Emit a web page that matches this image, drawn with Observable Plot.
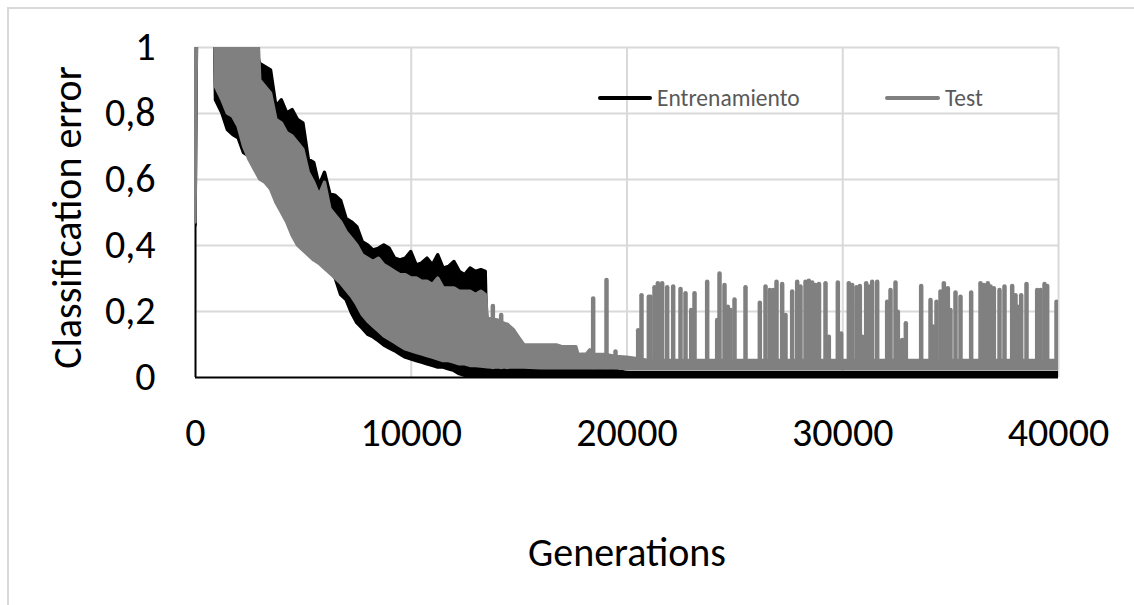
<!DOCTYPE html>
<html>
<head>
<meta charset="utf-8">
<script src="https://cdn.jsdelivr.net/npm/d3@7"></script>
<script src="https://cdn.jsdelivr.net/npm/@observablehq/plot@0.6"></script>
<style>
  html, body { margin: 0; padding: 0; background: #fff; overflow: hidden; }
  #wrap { position: relative; width: 1134px; height: 605px; }
  #frame { position: absolute; left: 7px; top: 7px; width: 1200px; height: 700px;
           border-left: 2px solid #d9d9d9; border-top: 2px solid #d9d9d9; }
  #chart { position: absolute; left: 0; top: 0; }
  .legend-item { position: absolute; top: 84px; height: 28px; display: flex; align-items: center;
                 font-family: Calibri, Carlito, Lato, sans-serif; font-size: 23.5px; color: #595959; }
  .legend-item .swatch { height: 3.5px; border-radius: 2px; margin-right: 5px; }
</style>
</head>
<body>
<div id="wrap">
  <div id="frame"></div>
  <div id="chart"></div>
</div>
<script>
// Classification error per generation: envelopes (min / max) of the noisy
// training and test curves, sampled along the generation axis.
const gens = [
  0, 100, 500, 850, 950, 1250, 1500, 1750, 2000, 2250,
  2500, 2750, 3000, 3250, 3500, 3750, 4000, 4250, 4500, 4750,
  5000, 5250, 5500, 5750, 6000, 6250, 6500, 6750, 7000, 7250,
  7500, 7750, 8000, 8250, 8500, 8750, 9000, 9250, 9500, 9750,
  10000, 10250, 10500, 10750, 11000, 11250, 11500, 11750, 12000, 12250,
  12500, 12750, 13000, 13250, 13450, 13550, 13750, 14000, 14250, 14500,
  14750, 15000, 15250, 16000, 16750, 17000, 17650, 17750, 18150, 18300,
  18500, 19000, 19500, 20000, 20500, 21000, 24000, 28000, 32000, 36000,
  40000
];

const trainLo = [
  0.46, 1.3, 1.3, 1.3, 0.84, 0.80, 0.75, 0.735, 0.725, 0.68,
  0.67, 0.64, 0.61, 0.60, 0.58, 0.54, 0.51, 0.48, 0.44, 0.41,
  0.395, 0.38, 0.365, 0.355, 0.34, 0.325, 0.30, 0.25, 0.235, 0.195,
  0.165, 0.148, 0.13, 0.122, 0.11, 0.097, 0.088, 0.08, 0.07, 0.06,
  0.055, 0.05, 0.045, 0.04, 0.035, 0.03, 0.03, 0.025, 0.02, 0.01,
  0.005, 0.004, 0.004, 0.004, 0.004, 0.004, 0.004, 0.004, 0.004, 0.004,
  0.004, 0.004, 0.004, 0.004, 0.004, 0.004, 0.004, 0.004, 0.004, 0.004,
  0.004, 0.004, 0.004, 0.002, 0.002, 0.002, 0.002, 0.002, 0.002, 0.002,
  0.002
];

const trainHi = [
  1.3, 1.3, 1.3, 1.3, 1.3, 1.3, 1.3, 1.3, 1.3, 1.3,
  1.3, 1.0, 0.95, 0.94, 0.93, 0.82, 0.84, 0.80, 0.81, 0.78,
  0.77, 0.66, 0.65, 0.58, 0.62, 0.555, 0.55, 0.535, 0.48, 0.47,
  0.455, 0.41, 0.40, 0.385, 0.39, 0.40, 0.39, 0.36, 0.355, 0.36,
  0.38, 0.34, 0.345, 0.36, 0.34, 0.37, 0.33, 0.335, 0.35, 0.32,
  0.31, 0.33, 0.32, 0.325, 0.32, 0.026, 0.026, 0.026, 0.026, 0.026,
  0.026, 0.026, 0.026, 0.026, 0.026, 0.026, 0.026, 0.026, 0.026, 0.026,
  0.026, 0.024, 0.02, 0.014, 0.014, 0.014, 0.014, 0.014, 0.014, 0.014,
  0.014
];

const testLo = [
  0.47, 1.3, 1.3, 1.3, 0.88, 0.84, 0.80, 0.79, 0.76, 0.70,
  0.66, 0.63, 0.60, 0.59, 0.57, 0.53, 0.50, 0.47, 0.43, 0.40,
  0.385, 0.37, 0.355, 0.345, 0.33, 0.315, 0.30, 0.285, 0.265, 0.245,
  0.22, 0.19, 0.17, 0.155, 0.14, 0.125, 0.115, 0.105, 0.095, 0.085,
  0.08, 0.075, 0.07, 0.065, 0.06, 0.055, 0.05, 0.05, 0.045, 0.04,
  0.04, 0.035, 0.035, 0.033, 0.032, 0.031, 0.03, 0.03, 0.03, 0.03,
  0.03, 0.03, 0.03, 0.028, 0.028, 0.028, 0.028, 0.028, 0.028, 0.028,
  0.028, 0.028, 0.028, 0.026, 0.026, 0.026, 0.026, 0.026, 0.026, 0.026,
  0.026
];

const testHi = [
  1.3, 1.3, 1.3, 1.3, 1.3, 1.3, 1.3, 1.3, 1.3, 1.3,
  1.3, 1.3, 0.90, 0.88, 0.86, 0.78, 0.77, 0.74, 0.73, 0.71,
  0.69, 0.62, 0.59, 0.55, 0.59, 0.51, 0.49, 0.47, 0.44, 0.42,
  0.40, 0.37, 0.36, 0.35, 0.36, 0.34, 0.33, 0.32, 0.31, 0.31,
  0.30, 0.30, 0.29, 0.29, 0.28, 0.30, 0.27, 0.27, 0.27, 0.26,
  0.26, 0.26, 0.25, 0.26, 0.25, 0.178, 0.175, 0.173, 0.165, 0.158,
  0.144, 0.12, 0.097, 0.097, 0.097, 0.092, 0.092, 0.068, 0.07, 0.082,
  0.068, 0.068, 0.062, 0.06, 0.055, 0.05, 0.05, 0.05, 0.05, 0.05,
  0.05
];

// Isolated peaks of the test error once the run has converged.
const spikeGens = [
  13782, 14168, 14446, 18432, 19050, 19467, 20518, 20672, 21012, 21090,
  21275, 21430, 21630, 21862, 22140, 22480, 22712, 22975, 23130, 23716,
  24180, 24288, 24519, 24674, 24797, 24983, 25493, 26157, 26420, 26620,
  26775, 26930, 27192, 27347, 27655, 27888, 28042, 28274, 28428, 28583,
  28737, 28900, 29201, 29355, 29772, 29927, 30282, 30437, 30638, 30792,
  30900, 31086, 31209, 31364, 31596, 32059, 32214, 32445, 32553, 32754,
  32924, 33635, 34068, 34191, 34346, 34531, 34686, 34870, 34994, 35226,
  35458, 35952, 36385, 36540, 36725, 36849, 37003, 37266, 37497, 37853,
  38007, 38115, 38270, 38517, 39012, 39166, 39351, 39475, 39908
];
const spikeTops = [
  0.215, 0.188, 0.158, 0.238, 0.294, 0.077, 0.142, 0.248, 0.243, 0.243,
  0.272, 0.284, 0.284, 0.272, 0.274, 0.267, 0.254, 0.203, 0.254, 0.289,
  0.173, 0.314, 0.279, 0.213, 0.203, 0.235, 0.272, 0.225, 0.274, 0.264,
  0.264, 0.289, 0.282, 0.188, 0.259, 0.289, 0.274, 0.289, 0.292, 0.286,
  0.279, 0.282, 0.284, 0.122, 0.286, 0.132, 0.284, 0.279, 0.272, 0.276,
  0.122, 0.284, 0.274, 0.289, 0.289, 0.228, 0.264, 0.286, 0.198, 0.112,
  0.163, 0.276, 0.233, 0.153, 0.228, 0.259, 0.284, 0.269, 0.203, 0.256,
  0.243, 0.256, 0.284, 0.279, 0.284, 0.274, 0.269, 0.264, 0.274, 0.276,
  0.248, 0.213, 0.248, 0.282, 0.264, 0.264, 0.282, 0.276, 0.228
];
const spikeBase = 0.03;

const seriesNames = ["Entrenamiento", "Test"];
const seriesColors = ["#000000", "#808080"];

const xTicks = [0, 10000, 20000, 30000, 40000];
const yTicks = [0, 0.2, 0.4, 0.6, 0.8, 1];
const xTitle = "Generations";
const yTitle = "Classification error";

const rows = gens.map((g, i) => ({
  gen: g, trainLo: trainLo[i], trainHi: trainHi[i], testLo: testLo[i], testHi: testHi[i]
}));
const spikes = spikeGens.map((g, i) => ({gen: g, base: spikeBase, top: spikeTops[i]}));

const comma = d => String(d).replace(".", ",");
const grid = {stroke: "#d9d9d9", strokeOpacity: 1, strokeWidth: 2};

const chart = Plot.plot({
  width: 1134,
  height: 605,
  marginLeft: 195,
  marginRight: 76,
  marginTop: 47,
  marginBottom: 228,
  style: {fontFamily: "Calibri, Carlito, Lato, sans-serif", fontSize: "40px", color: "#000", background: "transparent"},
  x: {domain: [0, 40000]},
  y: {domain: [0, 1]},
  marks: [
    Plot.gridY(yTicks.filter(d => d > 0), grid),
    Plot.gridX(xTicks.filter(d => d > 0), grid),
    Plot.ruleY([0], {stroke: "#000", strokeWidth: 2}),
    Plot.ruleX([0], {stroke: "#000", strokeWidth: 2}),
    Plot.areaY(rows, {x: "gen", y1: "trainLo", y2: "trainHi", fill: seriesColors[0],
      stroke: seriesColors[0], strokeWidth: 3.5, strokeLinejoin: "round", clip: true}),
    Plot.areaY(rows, {x: "gen", y1: "testLo", y2: "testHi", fill: seriesColors[1],
      stroke: seriesColors[1], strokeWidth: 3.5, strokeLinejoin: "round", clip: true}),
    Plot.ruleX(spikes, {x: "gen", y1: "base", y2: "top", stroke: seriesColors[1],
      strokeWidth: 4.5, strokeLinecap: "round", clip: true}),
    Plot.axisY(yTicks, {tickSize: 0, tickPadding: 40, tickFormat: comma, label: null}),
    Plot.axisX(xTicks, {tickSize: 0, tickPadding: 40, tickFormat: d => String(d), label: null}),
    Plot.text([yTitle], {frameAnchor: "left", rotate: -90, dx: -127, dy: 5,
      textAnchor: "middle", lineAnchor: "middle"}),
    Plot.text([xTitle], {frameAnchor: "bottom", dy: 176, textAnchor: "middle", lineAnchor: "middle"})
  ]
});
document.getElementById("chart").appendChild(chart);

// Legend placed inside the plotting area, above the curves
const legendX = [598, 885];
const legendSwatch = [54, 55];
seriesNames.forEach((name, i) => {
  const item = document.createElement("div");
  item.className = "legend-item";
  item.style.left = legendX[i] + "px";
  const sw = document.createElement("span");
  sw.className = "swatch";
  sw.style.width = legendSwatch[i] + "px";
  sw.style.background = seriesColors[i];
  const label = document.createElement("span");
  label.textContent = name;
  item.appendChild(sw);
  item.appendChild(label);
  document.getElementById("wrap").appendChild(item);
});
</script>
</body>
</html>
